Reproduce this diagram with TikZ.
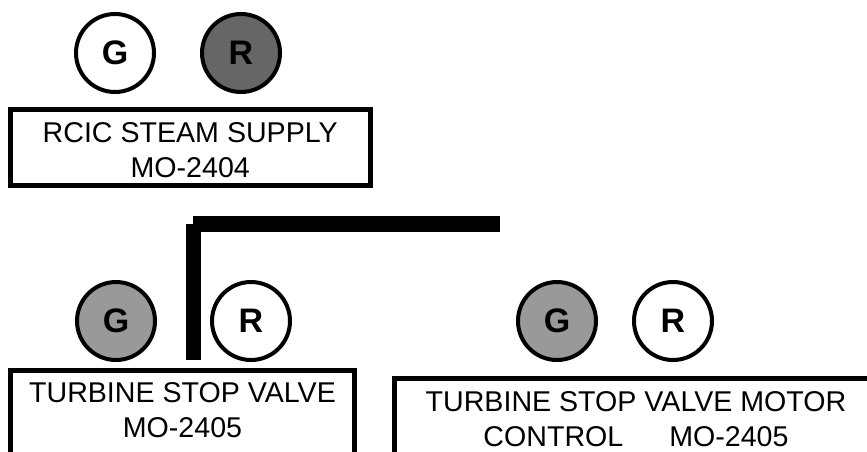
\documentclass[tikz,border=0pt]{standalone}
\usepackage{fontspec}
\setmainfont{Liberation Sans}
\usetikzlibrary{positioning}
\tikzset{
  lamp/.style={circle, draw=black, line width=4pt, minimum size=78pt, inner sep=0pt,
               font=\fontsize{34}{40}\selectfont\bfseries},
  lampoff/.style={lamp, fill=white},
  lampdark/.style={lamp, fill=black!60},
  lampgray/.style={lamp, fill=black!40},
  panel/.style={draw=black, line width=5pt, outer sep=0pt, inner sep=0pt},
  caption/.style={align=center, inner sep=0pt, font=\fontsize{28.6}{35}\selectfont},
  bus/.style={draw=black, line cap=butt},
}

\begin{document}
\begin{tikzpicture}[x=1pt, y=-1pt]
\useasboundingbox (0,0) rectangle (867,451);
\clip (0,0) rectangle (867,451);

\node[lampoff] (g1) at (115,53) {G};
\node[lampdark, right=44pt of g1] (r1) {R};
\node[panel, anchor=north west, minimum width=359.5pt, minimum height=76pt] (p1) at (10.5,109.5) {};
\node[caption, anchor=north, below=12.5pt of p1.north] (c1) {RCIC STEAM SUPPLY\\MO-2404};

\node[lampgray] (g2) at (116,321) {G};
\node[lampoff, right=53pt of g2] (r2) {R};
\node[panel, anchor=north west, minimum width=344pt, minimum height=120pt] (p2) at (10.5,370.5) {};
\node[caption, anchor=north, below=11.5pt of p2.north] (c2) {TURBINE STOP VALVE\\MO-2405};

\node[lampgray] (g3) at (557,321) {G};
\node[lampoff, right=34pt of g3] (r3) {R};
\node[panel, anchor=north west, minimum width=483pt, minimum height=120pt] (p3) at (394.5,378.5) {};
\node[caption, anchor=north, below=12.5pt of p3.north] (c3) {TURBINE STOP VALVE MOTOR\\CONTROL\hspace{46pt}MO-2405};

\coordinate (tap) at (193,360);
\coordinate (bend) at (193,224);
\coordinate (busend) at (500,224);
\draw[bus, line width=15pt] (tap) -- (bend);
\draw[bus, line width=16pt] (bend) -- (busend);
\end{tikzpicture}
\end{document}
